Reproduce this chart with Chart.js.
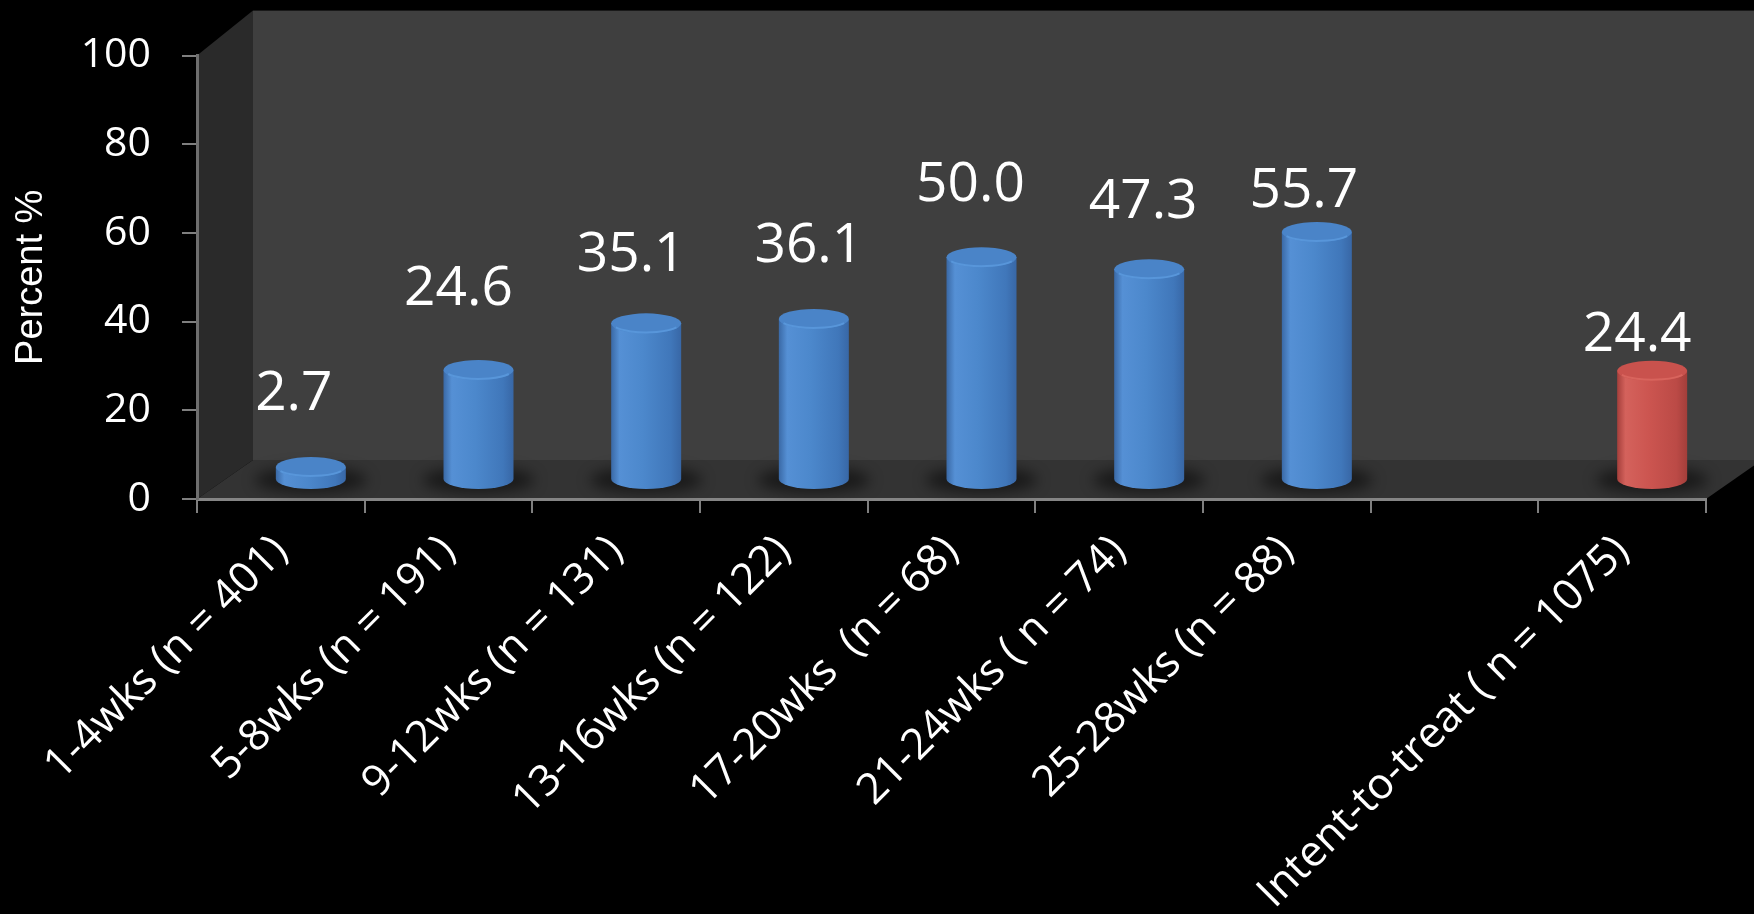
<!DOCTYPE html>
<html>
<head>
<meta charset="utf-8">
<script src="https://cdn.jsdelivr.net/npm/chart.js@4.4.0/dist/chart.umd.min.js"></script>
<style>
  html, body { margin: 0; padding: 0; background: #000; overflow: hidden; }
  #wrap { width: 1754px; height: 914px; }
</style>
</head>
<body>
<div id="wrap"><canvas id="chart" width="1754" height="914"></canvas></div>
<script>
'use strict';

// --- data ---
const categories = [
  "1-4wks (n = 401)",
  "5-8wks (n = 191)",
  "9-12wks (n = 131)",
  "13-16wks (n = 122)",
  "17-20wks  (n = 68)",
  "21-24wks ( n = 74)",
  "25-28wks (n = 88)",
  "",
  "Intent-to-treat ( n = 1075)",
];
const percentValues = [2.7, 24.6, 35.1, 36.1, 50.0, 47.3, 55.7, null, 24.4];
const yTickValues = [0, 20, 40, 60, 80, 100];
const groupKind = ["wk", "wk", "wk", "wk", "wk", "wk", "wk", "", "itt"];

// --- styling (kept apart from the data) ---
const labelLift = [77, 85, 72, 77, 76, 71, 45, 0, 40];   // px above value
const labelShift = [13, 10, 15, 25, 19, 24, 17, 0, 15];  // px right of slot centre
const DEPTH = { dx: 56, dyTop: -45, dyBottom: -39 };
const BAR = { dx: 30, dy: -20, width: 70, ry: 10 };
const palette = {
  wk: { stops: ["#3a69a6", "#5590d5", "#4c88cc", "#4077ba", "#3867a6"], top: "#4a84c8", rim: "#5896da" },
  itt: { stops: ["#a53f3b", "#d4625c", "#cc5550", "#bb4a46", "#a33e3a"], top: "#c9524d", rim: "#d8645d" },
};

const poly = (ctx, pts) => {
  ctx.beginPath();
  pts.forEach(([x, y], i) => (i ? ctx.lineTo(x, y) : ctx.moveTo(x, y)));
  ctx.closePath();
  ctx.fill();
};

const drawCylinder = (ctx, cx, top, bottom, kind) => {
  const c = palette[kind];
  const rx = BAR.width / 2;
  const g = ctx.createLinearGradient(cx - rx, 0, cx + rx, 0);
  [0, 0.12, 0.45, 0.85, 1].forEach((p, i) => g.addColorStop(p, c.stops[i]));

  // body
  ctx.beginPath();
  ctx.moveTo(cx - rx, top);
  ctx.lineTo(cx - rx, bottom);
  ctx.ellipse(cx, bottom, rx, BAR.ry, 0, Math.PI, 0, true);
  ctx.lineTo(cx + rx, top);
  ctx.closePath();
  ctx.fillStyle = g;
  ctx.fill();

  // top face
  ctx.beginPath();
  ctx.ellipse(cx, top, rx, BAR.ry, 0, 0, Math.PI * 2);
  ctx.fillStyle = c.top;
  ctx.fill();
  ctx.beginPath();
  ctx.ellipse(cx, top, rx - 1, BAR.ry - 1, 0, 0.15 * Math.PI, 0.85 * Math.PI);
  ctx.strokeStyle = c.rim;
  ctx.lineWidth = 2;
  ctx.stroke();
};

const frame3d = {
  id: "frame3d",
  beforeDraw(chart) {
    const { ctx, chartArea: a } = chart;
    const bx = a.left + DEPTH.dx;
    const topY = a.top + DEPTH.dyTop;
    const floorY = a.bottom + DEPTH.dyBottom;
    ctx.save();
    ctx.fillStyle = "#000";
    ctx.fillRect(0, 0, chart.width, chart.height);
    // back wall
    ctx.fillStyle = "#3f3f3f";
    ctx.fillRect(bx, topY, a.right + DEPTH.dx - bx, floorY - topY);
    // side wall
    ctx.fillStyle = "#2a2a2a";
    poly(ctx, [[a.left, a.top], [bx, topY], [bx, floorY], [a.left, a.bottom]]);
    // floor
    ctx.fillStyle = "#333333";
    poly(ctx, [[a.left, a.bottom], [bx, floorY], [a.right + DEPTH.dx, floorY], [a.right, a.bottom]]);
    ctx.restore();
  },
  afterDatasetsDraw(chart) {
    const { ctx } = chart;
    const y = chart.scales.y;
    const meta = chart.getDatasetMeta(0);
    const base = y.getPixelForValue(0) + BAR.dy;

    ctx.save();
    // soft shadows on the floor
    meta.data.forEach((bar, i) => {
      if (percentValues[i] == null) return;
      ctx.save();
      ctx.filter = "blur(7px)";
      ctx.fillStyle = "rgba(0,0,0,0.5)";
      ctx.beginPath();
      ctx.ellipse(bar.x + BAR.dx, base + 1, BAR.width * 0.8, BAR.ry * 1.3, 0, 0, Math.PI * 2);
      ctx.fill();
      ctx.restore();
    });

    meta.data.forEach((bar, i) => {
      const v = percentValues[i];
      if (v == null) return;
      drawCylinder(ctx, bar.x + BAR.dx, y.getPixelForValue(v) + BAR.dy, base, groupKind[i]);
    });

    // value labels
    ctx.fillStyle = "#ffffff";
    ctx.font = '55px "Open Sans"';
    ctx.textAlign = "center";
    ctx.textBaseline = "alphabetic";
    meta.data.forEach((bar, i) => {
      const v = percentValues[i];
      if (v == null) return;
      ctx.fillText(v.toFixed(1), bar.x + labelShift[i], y.getPixelForValue(v) - labelLift[i]);
    });
    ctx.restore();
  },
};

new Chart(document.getElementById("chart"), {
  type: "bar",
  data: {
    labels: categories,
    datasets: [
      {
        label: "Percent",
        data: percentValues,
        backgroundColor: "rgba(0,0,0,0)",
        borderWidth: 0,
      },
    ],
  },
  options: {
    responsive: false,
    animation: false,
    devicePixelRatio: 1,
    layout: { padding: { top: 54, right: 48, left: 0, bottom: 0 } },
    plugins: {
      legend: { display: false },
      tooltip: { enabled: false },
    },
    scales: {
      x: {
        offset: true,
        grid: { drawOnChartArea: false, drawTicks: true, tickLength: 14, color: "#7f7f7f", lineWidth: 2, offset: true },
        border: { display: true, color: "#858585", width: 3 },
        ticks: {
          color: "#ffffff",
          font: { family: "Open Sans", size: 43 },
          minRotation: 45,
          maxRotation: 45,
          autoSkip: false,
          padding: 13,
        },
        afterFit: (s) => { s.height = 415; },
      },
      y: {
        min: yTickValues[0],
        max: yTickValues[yTickValues.length - 1],
        grid: { drawOnChartArea: false, drawTicks: true, tickLength: 15, color: "#7f7f7f", lineWidth: 2 },
        border: { display: true, color: "#6e6e6e", width: 3 },
        ticks: {
          stepSize: yTickValues[1] - yTickValues[0],
          color: "#ffffff",
          font: { family: "Open Sans", size: 41 },
          padding: 31,
        },
        title: {
          display: true,
          text: "Percent %",
          color: "#ffffff",
          font: { family: "Liberation Sans", size: 38 },
          padding: { top: 9, bottom: 0 },
        },
        afterFit: (s) => { s.width = 197; },
      },
    },
  },
  plugins: [frame3d],
});
</script>
</body>
</html>
